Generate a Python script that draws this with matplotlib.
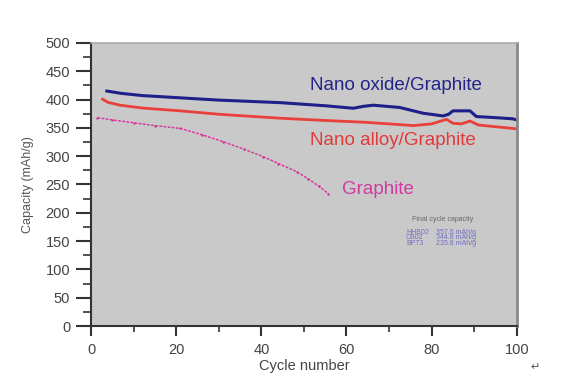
import matplotlib
matplotlib.use('Agg')
import matplotlib.pyplot as plt
from matplotlib.ticker import MultipleLocator

plt.rcParams['font.family'] = ['Liberation Sans', 'DejaVu Sans']

# Data
oxide_cycle = [3.7, 7, 12, 20.9, 30, 44.4, 55, 61.6, 64, 66.3, 72.5, 78, 82.7, 84, 85, 89, 90.5, 95, 99, 100]
oxide_cap = [415, 411, 407, 403, 399, 394.5, 389, 384.6, 388, 390, 386, 375.8, 371, 374, 380, 380, 370, 368, 366, 364]

alloy_cycle = [2.7, 4, 6.8, 12, 20.9, 30, 44.4, 55, 63.9, 70, 75.7, 80, 83.5, 85, 87, 89, 91, 95, 99, 100]
alloy_cap = [400.5, 395, 390, 385, 380, 374, 367, 363, 360, 357, 354, 357, 365, 358, 357, 362, 355, 352, 349, 348]

graph_cycle = [1.5, 5, 10, 15, 20.9, 26, 31, 36, 40.5, 44, 48.3, 51, 53.5, 55.7]
graph_cap = [368, 364, 359, 354, 349, 338, 325.6, 312, 299, 287, 272.6, 260, 247, 234]

inset_names = ['HHB02', 'CB02', 'BP73']
inset_vals = ['357.6 mAh/g', '344.8 mAh/g', '235.8 mAh/g']

fig = plt.figure(figsize=(5.8, 3.9), dpi=100)
ax = fig.add_axes([0.157, 0.164, 0.734, 0.726])
ax.set_facecolor('#c9c9c9')

ax.plot(oxide_cycle, oxide_cap, color='#1f1f8a', lw=2.2)
ax.plot(alloy_cycle, alloy_cap, color='#e8403a', lw=2.0)
ax.plot(graph_cycle, graph_cap, color='#d8309a', lw=1.0, ls=(0, (2, 1)),
        marker='.', markersize=1.5)

ax.set_xlim(0, 100)
ax.set_ylim(0, 500)
ax.xaxis.set_major_locator(MultipleLocator(20))
ax.xaxis.set_minor_locator(MultipleLocator(10))
ax.yaxis.set_major_locator(MultipleLocator(50))
ax.yaxis.set_minor_locator(MultipleLocator(25))
ax.tick_params(which='both', color='#333333', labelcolor='#444444', labelsize=10.5)
ax.tick_params(axis='y', which='major', direction='out', length=11, width=1.5, pad=4)
ax.tick_params(axis='y', which='minor', direction='out', length=5.5, width=1.2)
ax.tick_params(axis='x', which='major', direction='out', length=7, width=1.5, pad=5)
ax.tick_params(axis='x', which='minor', direction='out', length=4, width=1.2)

for s in ['left', 'bottom']:
    ax.spines[s].set_color('#333333')
    ax.spines[s].set_linewidth(1.5)
ax.spines['right'].set_color('#888888')
ax.spines['right'].set_linewidth(2)
ax.spines['top'].set_color('#aaaaaa')
ax.spines['top'].set_linewidth(1.2)

ax.set_xlabel('Cycle number', color='#444444', fontsize=10.5, labelpad=2)
ax.set_ylabel('Capacity (mAh/g)', color='#555555', fontsize=9, labelpad=8)

ax.text(51.5, 417, 'Nano oxide/Graphite', color='#23238a', fontsize=13.5)
ax.text(51.5, 320, 'Nano alloy/Graphite', color='#e23a3a', fontsize=13.5)
ax.text(59, 234, 'Graphite', color='#d23aa0', fontsize=13.5)

ax.text(75.5, 185, 'Final cycle capacity', color='#666666', fontsize=5)
for i in range(len(inset_names)):
    y = 163 - i * 10
    ax.text(74, y, inset_names[i], color='#7070c0', fontsize=5)
    ax.text(81, y, inset_vals[i], color='#7070c0', fontsize=5)

fig.text(0.915, 0.05, '\u21b5', color='#555555', fontsize=8, family='DejaVu Sans')

fig.savefig('out.png', dpi=100)
